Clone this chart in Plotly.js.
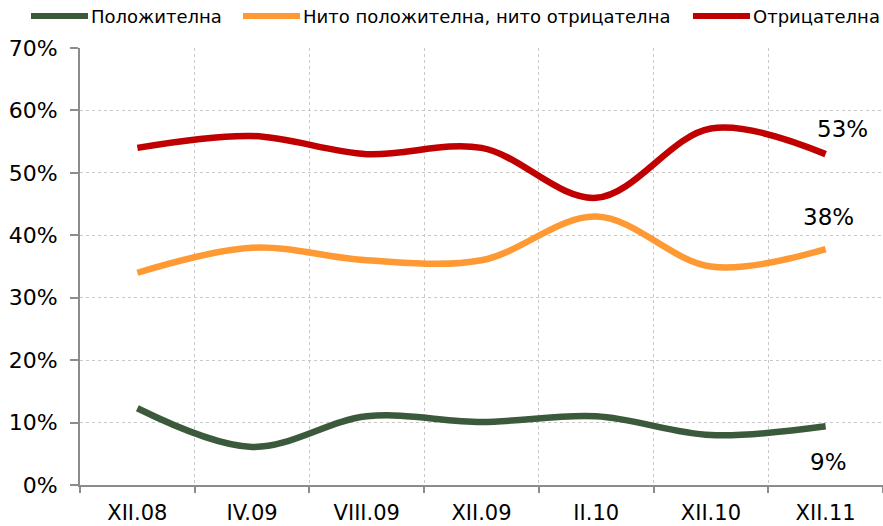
<!DOCTYPE html>
<html>
<head>
<meta charset="utf-8">
<script src="https://cdn.plot.ly/plotly-3.0.1.min.js"></script>
<style>html,body{margin:0;padding:0;background:#fff}#chart{width:883px;height:526px}</style>
</head>
<body>
<div id="chart"></div>
<script>
var categories = ["XII.08", "IV.09", "VIII.09", "XII.09", "II.10", "XII.10", "XII.11"];
var positive = [12.3, 6.1, 11.0, 10.1, 11.0, 8.0, 9.4];
var neutral = [34.0, 38.0, 36.0, 36.0, 43.0, 35.0, 37.8];
var negative = [54.0, 55.9, 53.0, 54.0, 46.0, 57.1, 53.0];
var seriesNames = ["Положителна", "Нито положителна, нито отрицателна", "Отрицателна"];
var endLabels = ["9%", "38%", "53%"];

var colors = ["#3b5a3b", "#ff9933", "#c00000"];
var allSeries = [positive, neutral, negative];
var FONT = "DejaVu Sans, Verdana, sans-serif";

var traces = allSeries.map(function (vals, i) {
  return {
    x: categories,
    y: vals,
    name: seriesNames[i],
    type: "scatter",
    mode: "lines",
    line: {color: colors[i], width: 6.5, shape: "spline", smoothing: 1},
    hoverinfo: "skip",
    showlegend: false
  };
});

var last = categories.length - 1;
var offsets = [[3, 36], [3, -32], [17, -25]];
var annotations = allSeries.map(function (vals, i) {
  return {
    x: categories[last], y: vals[last], xref: "x", yref: "y",
    text: endLabels[i], showarrow: false,
    xshift: offsets[i][0], yshift: -offsets[i][1],
    font: {family: FONT, size: 23, color: "#000"}
  };
});

// custom legend (pixel positions converted to paper coords)
var L = 80, W = 803, T = 48, H = 437;
function px(x) { return (x - L) / W; }
function py(y) { return 1 - (y - T) / H; }
var legendLineStart = [31, 243, 693];
var legendLineEnd = [88, 300, 750];
var shapes = [];
seriesNames.forEach(function (name, i) {
  shapes.push({
    type: "line", xref: "paper", yref: "paper",
    x0: px(legendLineStart[i]), x1: px(legendLineEnd[i]), y0: py(16), y1: py(16),
    line: {color: colors[i], width: 6}
  });
  annotations.push({
    xref: "paper", yref: "paper", x: px(legendLineEnd[i] + 1), y: py(16),
    xanchor: "left", yanchor: "middle", showarrow: false, text: name,
    font: {family: FONT, size: 18, color: "#000"}
  });
});

var layout = {
  width: 883, height: 526,
  margin: {l: L, r: 0, t: T, b: 41},
  paper_bgcolor: "#fff", plot_bgcolor: "#fff",
  font: {family: FONT, size: 21, color: "#000"},
  showlegend: false,
  xaxis: {
    type: "category", range: [-0.5, 6.5], tickson: "boundaries",
    showgrid: true, gridcolor: "#c8c8c8", griddash: "dot", gridwidth: 1,
    showline: true, linecolor: "#8c8c8c", linewidth: 2,
    ticks: "outside", ticklen: 6, tickwidth: 2, tickcolor: "#8c8c8c",
    tickfont: {size: 21}, zeroline: false, automargin: false,
    ticklabelstandoff: 8
  },
  yaxis: {
    range: [0, 70], dtick: 10, ticksuffix: "%",
    showgrid: true, gridcolor: "#c8c8c8", griddash: "dot", gridwidth: 1,
    showline: true, linecolor: "#8c8c8c", linewidth: 2,
    ticks: "outside", ticklen: 8, tickwidth: 2, tickcolor: "#8c8c8c",
    tickfont: {size: 22}, zeroline: false, automargin: false,
    ticklabelstandoff: 8
  },
  shapes: shapes,
  annotations: annotations
};

Plotly.newPlot("chart", traces, layout, {displayModeBar: false, staticPlot: true});
</script>
</body>
</html>
